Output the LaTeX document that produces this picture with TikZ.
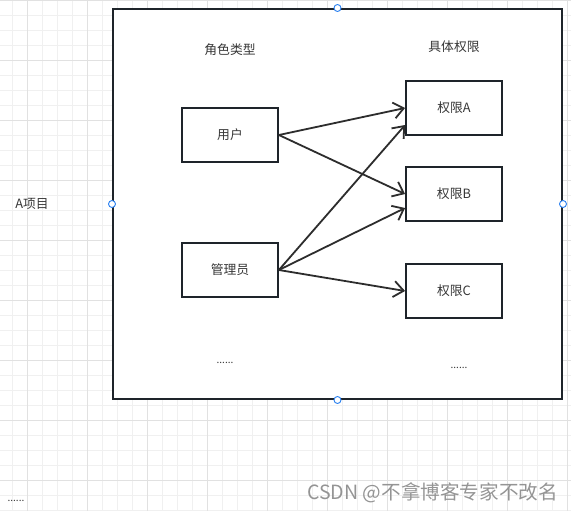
\documentclass[tikz,border=0pt]{standalone}
\usepackage{fontspec}
\setmainfont{Noto Sans CJK SC}
\usetikzlibrary{arrows.meta,positioning,calc}
\definecolor{boxline}{RGB}{30,36,42}
\definecolor{edgeline}{RGB}{45,45,45}
\definecolor{txt}{RGB}{55,55,55}
\definecolor{gridminor}{RGB}{240,240,240}
\definecolor{gridmajor}{RGB}{225,225,225}
\definecolor{handleblue}{RGB}{41,128,240}

\begin{document}
\begin{tikzpicture}[
    x=1pt, y=-1pt,
    every node/.style={font=\fontsize{12.8}{15}\selectfont, text=txt},
    role/.style={rectangle, draw=boxline, fill=white, line width=1.8pt, minimum width=96pt, minimum height=54pt, inner sep=0pt},
    perm/.style={role},
    frame/.style={rectangle, draw=boxline, fill=white, line width=2pt, minimum width=449pt, minimum height=390pt, inner sep=0pt},
    handle/.style={circle, draw=handleblue, fill=white, line width=0.9pt, minimum size=7pt, inner sep=0pt},
    conn/.style={draw=edgeline, line width=1.8pt, -{Straight Barb[length=10pt,width=16pt]}},
    dots/.style={font=\fontsize{10}{11}\selectfont}
]
\useasboundingbox (0,0) rectangle (571,511);

% background grid
\foreach \gx in {12.7,27.7,...,570} \draw[gridminor, line width=0.8pt] (\gx,0) -- (\gx,511);
\foreach \gy in {0,15,...,510} \draw[gridminor, line width=0.8pt] (0,\gy) -- (571,\gy);
\foreach \gx in {27.7,87.7,...,570} \draw[gridmajor, line width=0.8pt] (\gx,0) -- (\gx,511);
\foreach \gy in {0,60,...,510} \draw[gridmajor, line width=0.8pt] (0,\gy) -- (571,\gy);

% project frame
\node[frame] (proj) at (337.5,204) {};
\foreach \side in {north,south,west,east}
    \node[handle] (h-\side) at (proj.\side) {};

\node (projName) at (32,204) {A项目};
\node[dots] (projMore) at (16,501) {......};

% roles
\node (roleTitle) at (230,50) {角色类型};
\node[role] (user) at (230,135) {用户};
\node[role] (admin) at (230,270) {管理员};
\node[dots] (roleMore) at (225,363) {......};

% permissions
\node (permTitle) at (454,47) {具体权限};
\node[perm] (permA) at (454,108) {权限A};
\node[perm] (permB) at (454,194) {权限B};
\node[perm] (permC) at (454,291) {权限C};
\node[dots] (permMore) at (459,368) {......};

% links
\draw[conn] (user.east) -- (permA.west);
\draw[conn] (user.east) -- (permB.west);
\draw[conn] (admin.east) -- ($(permA.west)+(0,17)$);
\draw[conn] (admin.east) -- ($(permB.west)+(0,14)$);
\draw[conn] (admin.east) -- (permC.west);

\node[font=\fontsize{19.6}{21}\selectfont, text=black!42] (mark) at (432.5,493) {CSDN @不拿博客专家不改名};

\end{tikzpicture}
\end{document}
